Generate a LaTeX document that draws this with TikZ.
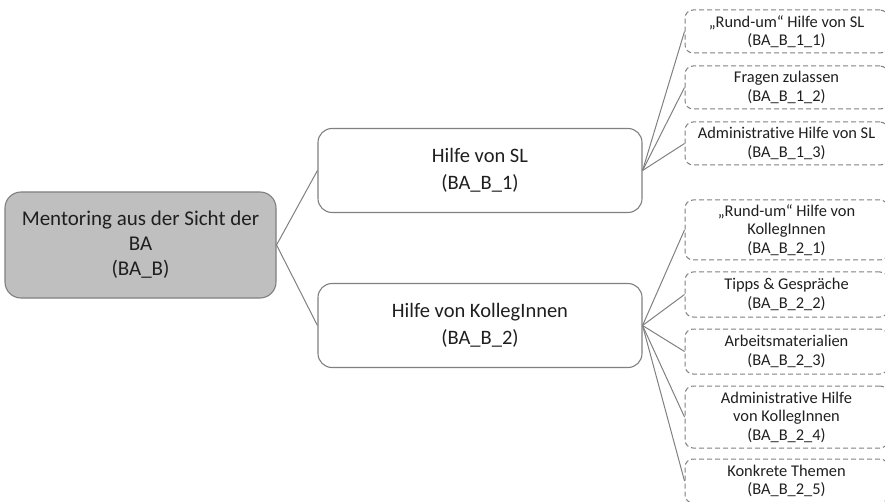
\documentclass[tikz,border=0pt]{standalone}
\usepackage{fontspec}
\setmainfont{Carlito}[Ligatures={NoCommon,NoRare}]
\usepackage{tikz}
\usetikzlibrary{positioning}
\usepackage{xcolor}
\definecolor{boxgray}{HTML}{BFBFBF}
\definecolor{linegray}{HTML}{808080}
\definecolor{textgray}{HTML}{1F1F1F}

\begin{document}
\begin{tikzpicture}[
      x=1pt, y=-1pt,
      rootbox/.style={draw=linegray, fill=boxgray, rounded corners=16pt, line width=1.1pt,
        minimum width=271pt, minimum height=106pt, align=center, inner sep=0pt,
        text=textgray, font=\fontsize{21}{25}\selectfont},
      midbox/.style={draw=linegray, fill=white, rounded corners=14pt, line width=1.1pt,
        minimum width=324pt, minimum height=84pt, align=center, inner sep=0pt,
        text=textgray, font=\fontsize{20.5}{26.5}\selectfont},
      leafbox/.style={draw=linegray, dash pattern=on 5pt off 3pt, rounded corners=8pt,
        line width=1pt, minimum width=203pt, align=center, inner sep=0pt,
        text=textgray, font=\fontsize{16.4}{18.5}\selectfont},
      link/.style={draw=linegray, line width=1pt}
    ]
    \useasboundingbox (0,0) rectangle (885,502);
    \clip (0,0) rectangle (885,502);
    % Mentoring aus der Sicht der BA: two branches, each with its codes
    \node[rootbox] (ba) at (140.5,245) {Mentoring aus der Sicht der\\BA\\(BA\_B)};
    \node[midbox] (b1) at (480,170.5) {Hilfe von SL\\(BA\_B\_1)};
    \node[midbox] (b2) at (480,325.5) {Hilfe von KollegInnen\\(BA\_B\_2)};
    \node[leafbox, minimum height=43pt] (b11) at (786.5,31.5) {„Rund-um“ Hilfe von SL\\(BA\_B\_1\_1)};
    \node[leafbox, minimum height=43pt] (b12) at (786.5,87.5) {Fragen zulassen\\(BA\_B\_1\_2)};
    \node[leafbox, minimum height=43pt] (b13) at (786.5,143.5) {Administrative Hilfe von SL\\(BA\_B\_1\_3)};
    \node[leafbox, minimum height=60pt] (b21) at (786.5,230) {„Rund-um“ Hilfe von\\KollegInnen\\(BA\_B\_2\_1)};
    \node[leafbox, minimum height=45pt] (b22) at (786.5,294.5) {Tipps \& Gespräche\\(BA\_B\_2\_2)};
    \node[leafbox, minimum height=45pt] (b23) at (786.5,351.5) {Arbeitsmaterialien\\(BA\_B\_2\_3)};
    \node[leafbox, minimum height=62pt] (b24) at (786.5,417) {Administrative Hilfe\\von KollegInnen\\(BA\_B\_2\_4)};
    \node[leafbox, minimum height=44pt] (b25) at (786.5,481) {Konkrete Themen\\(BA\_B\_2\_5)};
    \draw[link] (ba.east) -- (b1.west);
    \draw[link] (ba.east) -- (b2.west);
    \draw[link] (b1.east) -- (b11.west);
    \draw[link] (b1.east) -- (b12.west);
    \draw[link] (b1.east) -- (b13.west);
    \draw[link] (b2.east) -- (b21.west);
    \draw[link] (b2.east) -- (b22.west);
    \draw[link] (b2.east) -- (b23.west);
    \draw[link] (b2.east) -- (b24.west);
    \draw[link] (b2.east) -- (b25.west);
  \end{tikzpicture}
\end{document}
